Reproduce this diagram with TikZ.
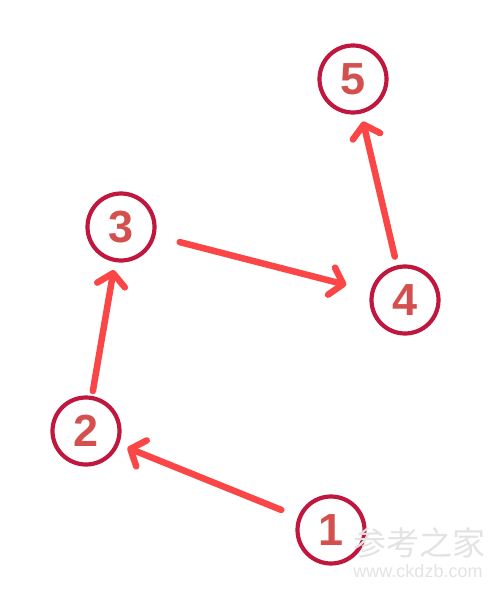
\documentclass[tikz,border=0pt]{standalone}
\usepackage{fontspec}
\setmainfont{Liberation Sans}
\newfontfamily\cjk{Noto Sans CJK SC}
\usetikzlibrary{arrows.meta}

\definecolor{ring}{HTML}{C0173F}
\definecolor{digit}{HTML}{D4504E}
\definecolor{arrowred}{HTML}{FA4646}

\begin{document}
\begin{tikzpicture}[
	x=1pt, y=-1pt
	,num/.style={circle, draw=ring, line width=4.2pt, minimum size=67pt, inner sep=0pt, text=digit, font=\fontsize{45}{45}\selectfont\bfseries}
	,link/.style={draw=arrowred, line width=6.5pt, line cap=round, -{Straight Barb[length=12pt, width=28pt, line width=6.5pt, round]}}
	,stamp/.style={text=gray!22}
]
	\useasboundingbox (0,0) rectangle (493,601);
	\node [num] (N1) at (331,530) {1};
	\node [num] (N2) at (86,431) {2};
	\node [num] (N3) at (121,227) {3};
	\node [num] (N4) at (405,300) {4};
	\node [num] (N5) at (353,79) {5};

	\draw [link, shorten <=18pt, shorten >=9pt] (N1) -- (N2);
	\draw [link, shorten <=5pt, shorten >=8pt] (N2) -- (N3);
	\draw [link, shorten <=25pt, shorten >=25pt] (N3) -- (N4);
	\draw [link, shorten <=9pt, shorten >=8pt] (N4) -- (N5);

	% watermark
	\node [stamp, font=\cjk\fontsize{33}{33}\selectfont] (W1) at (419,543) {参考之家};
	\node [stamp, font=\fontsize{18}{18}\selectfont] (W2) at (418,571) {www.ckdzb.com};
\end{tikzpicture}
\end{document}
